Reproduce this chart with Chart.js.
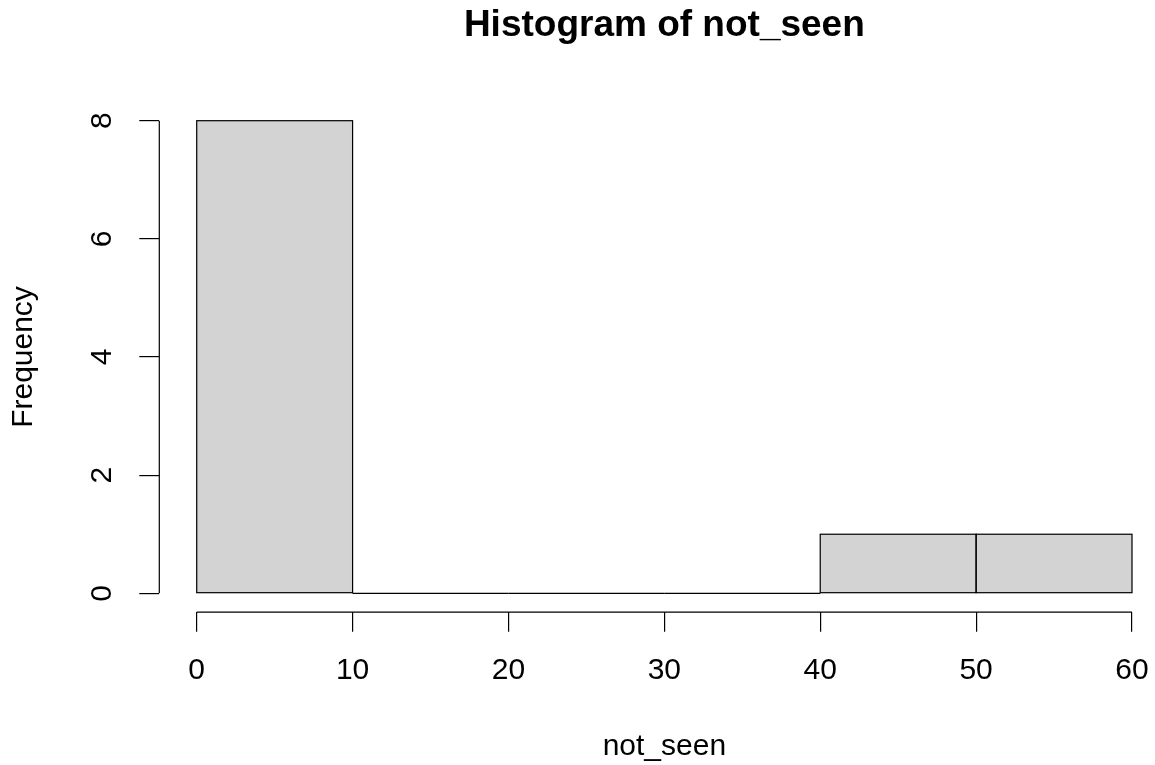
<!DOCTYPE html>
<html>
<head>
<meta charset="utf-8">
<title>Histogram of not_seen</title>
<script src="https://cdn.jsdelivr.net/npm/chart.js@4.4.1/dist/chart.umd.min.js"></script>
<style>
  html, body { margin: 0; padding: 0; background: #fff; overflow: hidden; }
  canvas { display: block; }
</style>
</head>
<body>
<canvas id="histChart" width="1170" height="765"></canvas>
<script>
// bins of not_seen
const breaks = [0, 10, 20, 30, 40, 50, 60];
const counts = [8, 0, 0, 0, 1, 1];
const xTicks = [0, 10, 20, 30, 40, 50, 60];
const yTicks = [0, 2, 4, 6, 8];

const FONT = "'Liberation Sans', Arial, Helvetica, sans-serif";
const LW = 1.2;

Chart.defaults.font.family = FONT;
Chart.defaults.color = '#000';

// bin mid points, bars are one bin wide
var binData = counts.map(function (c, i) {
    return { x: (breaks[i] + breaks[i + 1]) / 2, y: c };
});

// black outline of every bin, also the empty ones (flat line at 0)
const binOutline = {
    id: 'binOutline',
    afterDatasetsDraw(chart) {
        const ctx = chart.ctx;
        ctx.save();
        ctx.strokeStyle = '#000';
        ctx.lineWidth = LW;
        chart.getDatasetMeta(0).data.forEach(bar => {
            const p = bar.getProps(['x', 'y', 'base', 'width'], true);
            ctx.strokeRect(p.x - p.width / 2, Math.min(p.y, p.base), p.width, Math.abs(p.base - p.y));
        });
        ctx.restore();
    }
};

// R style axes: line only between first and last tick, y labels turned
const rAxes = {
    id: 'rAxes',
    afterDraw(chart) {
        const ctx = chart.ctx;
        const xs = chart.scales.x, ys = chart.scales.y;
        const area = chart.chartArea;
        ctx.save();
        ctx.strokeStyle = '#000';
        ctx.lineWidth = LW;
        ctx.beginPath();
        ctx.moveTo(xs.getPixelForValue(xTicks[0]), area.bottom);
        ctx.lineTo(xs.getPixelForValue(xTicks[xTicks.length - 1]), area.bottom);
        ctx.moveTo(area.left, ys.getPixelForValue(yTicks[0]));
        ctx.lineTo(area.left, ys.getPixelForValue(yTicks[yTicks.length - 1]));
        ctx.stroke();

        ctx.fillStyle = '#000';
        ctx.font = '30px ' + FONT;
        ctx.textAlign = 'center';
        ctx.textBaseline = 'middle';
        yTicks.forEach(v => {
            ctx.save();
            ctx.translate(area.left - 57, ys.getPixelForValue(v));
            ctx.rotate(-Math.PI / 2);
            ctx.fillText(String(v), 0, 0);
            ctx.restore();
        });
        ctx.restore();
    }
};

const ctx = document.getElementById('histChart').getContext('2d');
new Chart(ctx, {
    type: 'bar',
    data: {
        datasets: [{
            label: 'not_seen',
            data: binData,
            backgroundColor: '#D3D3D3',
            borderWidth: 0,
            barPercentage: 1,
            categoryPercentage: 1
        }]
    },
    options: {
        responsive: false,
        animation: false,
        layout: { padding: { left: 0, right: 0.6, top: 0, bottom: 0 } },
        plugins: {
            legend: { display: false },
            tooltip: { enabled: false },
            title: {
                display: true,
                text: 'Histogram of not_seen',
                fullSize: false,
                color: '#000',
                font: { size: 37, weight: 'bold', lineHeight: 1.2 },
                padding: { top: 4, bottom: 53.4 }
            }
        },
        scales: {
            x: {
                type: 'linear',
                min: -2.4,
                max: 62.4,
                offset: false,
                afterBuildTicks: s => { s.ticks = xTicks.map(v => ({ value: v })); },
                afterFit: s => { s.height = 152.8; },
                grid: { display: true, drawOnChartArea: false, drawTicks: true, tickLength: 19.5, color: '#000', lineWidth: LW, offset: false },
                border: { display: false },
                ticks: { padding: 21, font: { size: 30 }, color: '#000', maxRotation: 0, autoSkip: false },
                title: { display: true, text: 'not_seen', color: '#000', font: { size: 30 }, padding: { top: 0, bottom: 0 } }
            },
            y: {
                min: -0.32,
                max: 8.32,
                afterBuildTicks: s => { s.ticks = yTicks.map(v => ({ value: v })); },
                afterFit: s => { s.width = 159.3; },
                grid: { display: true, drawOnChartArea: false, drawTicks: true, tickLength: 20, color: '#000', lineWidth: LW },
                border: { display: false },
                ticks: { display: false },
                title: { display: true, text: 'Frequency', color: '#000', font: { size: 30 }, padding: { top: 6, bottom: 0 } }
            }
        }
    },
    plugins: [binOutline, rAxes]
});
</script>
</body>
</html>
